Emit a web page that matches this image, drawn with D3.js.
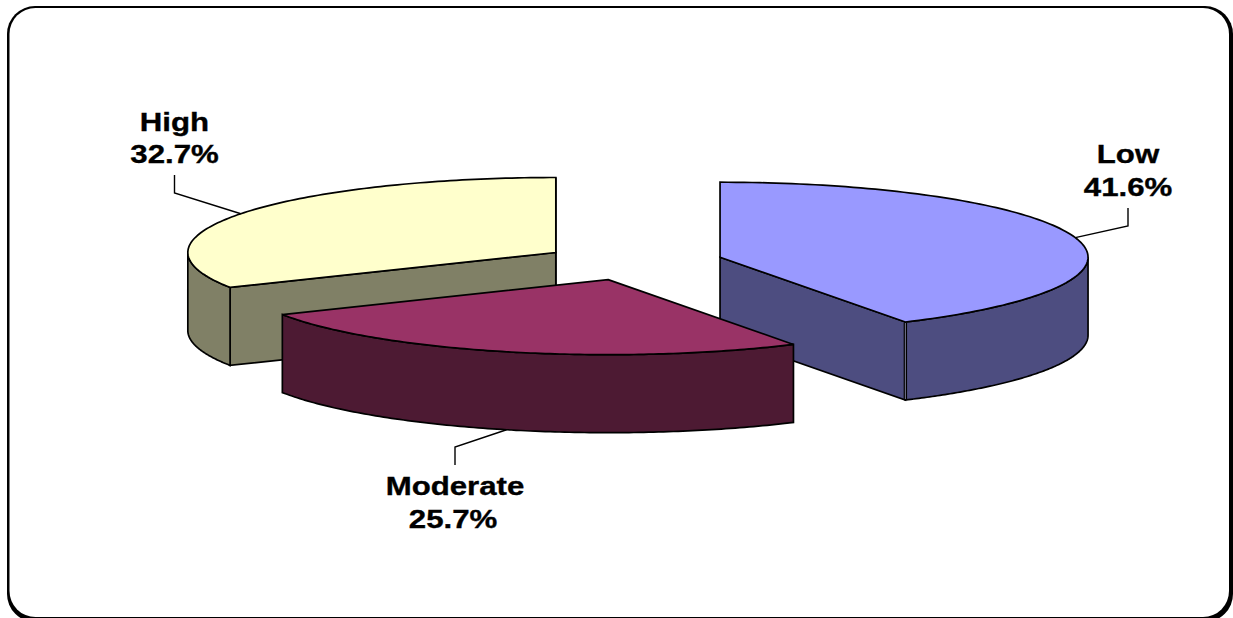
<!DOCTYPE html>
<html>
<head>
<meta charset="utf-8">
<script src="https://cdnjs.cloudflare.com/ajax/libs/d3/7.8.5/d3.min.js"></script>
<style>
  html, body { margin: 0; padding: 0; background: #fff; overflow: hidden; }
  svg { display: block; }
  text { font-family: "Liberation Sans", Arial, sans-serif; font-weight: 700; fill: #000; stroke: #000; stroke-width: 0.35px; }
</style>
</head>
<body>
<svg id="chart" width="1233" height="618"></svg>
<script>
// Risk categories and their shares, clockwise from twelve o'clock
const categories = ["Low", "Moderate", "High"];
const shares = [41.6, 25.7, 32.7];
const topColors = ["#9999ff", "#993366", "#ffffcc"];
const wallColors = ["#4d4d80", "#4d1a33", "#808066"];

// Pie geometry: tilted ellipse, extruded by a fixed depth, slices pulled out radially
const centerX = 633, centerY = 262;
const radiusX = 368, radiusY = 75, depth = 78;
const explode = 0.245;

const svg = d3.select("#chart");

// Frame: black rounded plate with a white plate over it, heavier at right and bottom
svg.append("rect").attr("x", 7).attr("y", 6).attr("width", 1226).attr("height", 616)
  .attr("rx", 28).attr("fill", "#000");
svg.append("rect").attr("x", 9.5).attr("y", 8).attr("width", 1219.5).attr("height", 609)
  .attr("rx", 26).attr("fill", "#fff");

const arcs = d3.pie().sort(null).startAngle(0).endAngle(2 * Math.PI)
  .value(d => d)(shares);

const sx = d3.scaleLinear().domain([-1, 1]).range([-radiusX, radiusX]);
const sy = d3.scaleLinear().domain([-1, 1]).range([-radiusY, radiusY]);
const line = d3.line();

// Point on the rim of a slice's ellipse at an angle measured clockwise from the top
const rim = (c, a, dz = 0) => [c[0] + sx(Math.sin(a)), c[1] + sy(-Math.cos(a)) + dz];
const rimSteps = (a0, a1) => d3.range(0, 121).map(i => a0 + (a1 - a0) * i / 120);

const slices = arcs.map((arc, i) => {
  const mid = (arc.startAngle + arc.endAngle) / 2;
  return {
    i, mid, arc,
    c: [centerX + explode * sx(Math.sin(mid)), centerY + explode * sy(-Math.cos(mid))]
  };
});

// Painter's order: back slices first, the front slice last
const drawOrder = [2, 0, 1];
const g = svg.append("g").attr("stroke", "#000").attr("stroke-width", 1.7)
  .attr("stroke-linejoin", "miter");

drawOrder.forEach(idx => {
  const s = slices[idx], { startAngle: a0, endAngle: a1 } = s.arc, c = s.c;
  const fill = wallColors[idx];

  // Radial faces that turn towards the viewer
  [[a0, Math.sin(a0) < 0], [a1, Math.sin(a1) > 0]].forEach(([a, visible]) => {
    if (!visible) return;
    const p = rim(c, a);
    const quad = [c, p, [p[0], p[1] + depth], [c[0], c[1] + depth]];
    g.append("path").attr("d", line(quad) + "Z").attr("fill", fill);
  });

  // Outer wall on the front half of the rim
  const w0 = Math.max(a0, Math.PI / 2), w1 = Math.min(a1, 3 * Math.PI / 2);
  if (w1 > w0) {
    const upper = rimSteps(w0, w1).map(a => rim(c, a));
    const lower = rimSteps(w1, w0).map(a => rim(c, a, depth));
    g.append("path").attr("d", line(upper.concat(lower)) + "Z").attr("fill", fill);
  }

  // Where a radial face meets the outer wall the two outlines sit side by side
  if (idx === 0) {
    const p = rim(c, a1);
    const seam = [[p[0], p[1] + 1], [p[0], p[1] + depth - 1]];
    g.append("path").attr("d", line(seam)).attr("fill", "none").attr("stroke-width", 3.4);
    g.append("path").attr("d", line(seam)).attr("fill", "none")
      .attr("stroke", "#8a8aa8").attr("stroke-width", 0.9);
  }

  // Top surface
  const top = [c].concat(rimSteps(a0, a1).map(a => rim(c, a)));
  g.append("path").attr("d", line(top) + "Z").attr("fill", topColors[idx]);
});

// Labels: each sits at the end of a two-segment leader from its slice
const labelX = [1128, 455, 174.5];
const labelFirstBaseline = [163, 495, 130.5];
const leaderEnd = [208, 465, 175];
const leaderElbow = [226, 447, 193];

const leaders = svg.append("g").attr("fill", "none").attr("stroke", "#000").attr("stroke-width", 1.4);
slices.forEach(s => {
  const i = s.i;
  const anchor = rim(s.c, s.mid, Math.cos(s.mid) < 0 ? depth : 0);
  leaders.append("path").attr("d", line([
    anchor, [labelX[i], leaderElbow[i]], [labelX[i], leaderEnd[i]]
  ]));

  const lines = [categories[i], shares[i].toFixed(1) + "%"];
  lines.forEach((t, k) => {
    svg.append("text")
      .attr("transform", `translate(${labelX[i] - (k === 1 && i === 1 ? 2 : 0)},${labelFirstBaseline[i] + k * 32.5}) scale(1.2,1)`)
      .attr("text-anchor", "middle")
      .attr("font-size", 26)
      .text(t);
  });
});
</script>
</body>
</html>
